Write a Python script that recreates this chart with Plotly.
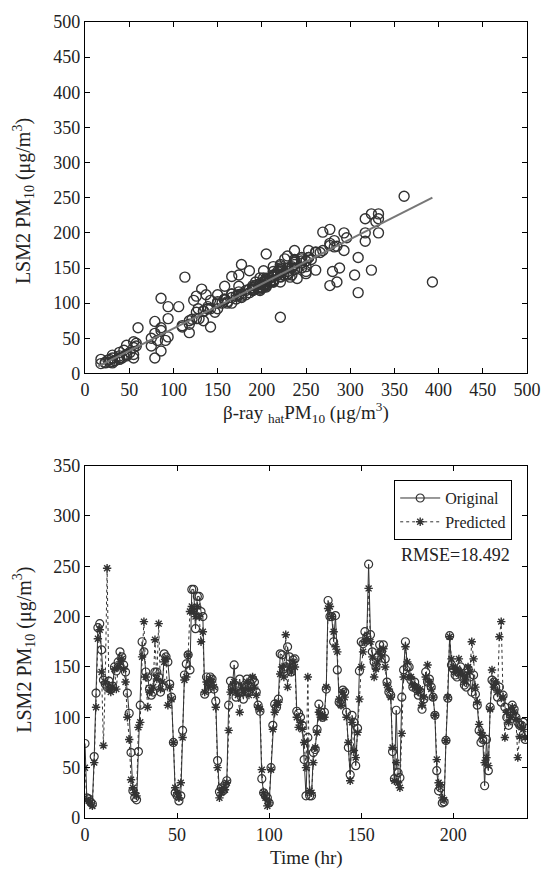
import plotly.graph_objects as go

# ---------------- data ----------------
hours = list(range(240))

original = [
    74, 20, 19, 16, 14, 61, 124, 189, 193, 167,
    137, 133, 130, 136, 128, 131, 150, 146, 155, 165,
    160, 152, 145, 124, 104, 65, 27, 20, 18, 66,
    112, 175, 165, 145, 140, 128, 122, 125, 145, 145,
    140, 125, 130, 163, 160, 155, 133, 120, 75, 25,
    22, 17, 22, 87, 142, 153, 162, 147, 227, 227,
    188, 220, 220, 205, 200, 123, 140, 128, 140, 138,
    128, 116, 57, 26, 30, 27, 33, 37, 112, 136,
    130, 152, 120, 130, 138, 125, 118, 130, 138, 125,
    130, 138, 135, 125, 112, 106, 39, 25, 22, 20,
    15, 50, 92, 113, 110, 118, 163, 162, 148, 150,
    170, 160, 145, 157, 158, 106, 104, 100, 92, 58,
    22, 80, 22, 22, 65, 68, 88, 113, 105, 100,
    105, 128, 216, 200, 200, 175, 201, 147, 115, 113,
    127, 125, 105, 70, 43, 102, 95, 52, 89, 146,
    175, 173, 185, 180, 252, 182, 165, 155, 150, 160,
    172, 165, 172, 158, 135, 125, 122, 66, 39, 107,
    45, 40, 120, 147, 175, 150, 150, 137, 130, 135,
    128, 122, 125, 108, 118, 145, 135, 138, 130, 120,
    102, 47, 27, 30, 15, 16, 77, 119, 181, 152,
    148, 142, 140, 145, 150, 140, 132, 130, 148, 140,
    125, 142, 123, 112, 87, 75, 78, 32, 78, 47,
    110, 137, 135, 130, 120, 130, 115, 122, 110, 100,
    92, 105, 112, 108, 100, 95, 92, 92, 95, 78,
]

predicted = [
    50, 18, 17, 15, 12, 55, 110, 178, 187, 145,
    72, 135, 248, 128, 125, 130, 148, 128, 150, 155,
    158, 148, 135, 100, 78, 38, 30, 25, 22, 90,
    95, 160, 195, 140, 110, 125, 127, 130, 177, 138,
    193, 128, 135, 155, 158, 112, 130, 118, 75, 30,
    25, 20, 35, 80, 137, 140, 162, 205, 210, 205,
    200, 210, 200, 175, 185, 125, 135, 130, 138, 135,
    130, 110, 50, 20, 25, 30, 28, 35, 87, 125,
    128, 135, 125, 122, 105, 130, 125, 128, 135, 122,
    128, 140, 130, 122, 110, 108, 48, 25, 20, 12,
    15, 48, 88, 105, 112, 115, 143, 150, 140, 182,
    130, 150, 145, 155, 150, 100, 90, 95, 88, 75,
    50, 140, 27, 25, 55, 70, 85, 105, 100, 102,
    100, 130, 208, 210, 200, 185, 170, 165, 118, 112,
    125, 120, 100, 75, 37, 95, 67, 60, 85, 118,
    150, 165, 175, 178, 228, 175, 160, 140, 148, 155,
    165, 160, 168, 150, 132, 128, 120, 70, 37, 55,
    35, 30, 84, 140, 170, 155, 140, 140, 132, 130,
    130, 125, 128, 112, 120, 140, 152, 135, 128, 120,
    102, 58, 35, 33, 20, 18, 77, 120, 180, 158,
    150, 145, 148, 158, 145, 142, 135, 140, 150, 145,
    175, 158, 130, 115, 93, 85, 82, 55, 60, 52,
    108, 147, 130, 135, 125, 180, 195, 120, 80, 105,
    95, 100, 110, 105, 98, 60, 81, 90, 88, 80,
]

beta_ray = [
    79, 28, 26, 23, 18, 86, 174, 282, 296, 229,
    113, 213, 393, 202, 198, 205, 234, 202, 237, 245,
    250, 234, 213, 158, 123, 60, 47, 39, 34, 142,
    150, 253, 309, 221, 174, 198, 201, 205, 280, 218,
    305, 202, 213, 245, 250, 177, 205, 186, 118, 47,
    39, 31, 55, 126, 217, 221, 256, 324, 332, 324,
    317, 332, 317, 277, 293, 198, 213, 205, 218, 213,
    205, 174, 79, 31, 39, 47, 44, 55, 137, 198,
    202, 213, 198, 193, 166, 205, 198, 202, 213, 193,
    202, 221, 205, 193, 174, 171, 75, 39, 31, 18,
    23, 75, 139, 166, 177, 182, 226, 237, 221, 288,
    205, 237, 229, 245, 237, 158, 142, 150, 139, 118,
    79, 221, 42, 39, 86, 110, 134, 166, 158, 161,
    158, 205, 329, 332, 317, 293, 269, 261, 186, 177,
    198, 190, 158, 118, 58, 150, 106, 94, 134, 186,
    237, 261, 277, 282, 361, 277, 253, 221, 234, 245,
    261, 253, 266, 237, 209, 202, 190, 110, 58, 86,
    55, 47, 132, 221, 269, 245, 221, 221, 209, 205,
    205, 198, 202, 177, 190, 221, 240, 213, 202, 190,
    161, 91, 55, 51, 31, 28, 121, 190, 285, 250,
    237, 229, 234, 250, 229, 225, 213, 221, 237, 229,
    277, 250, 205, 182, 147, 134, 129, 86, 94, 82,
    171, 232, 205, 213, 198, 285, 309, 190, 126, 166,
    150, 158, 174, 166, 155, 94, 128, 142, 139, 126,
]

fit_x = [15, 393]
fit_y = [10, 250]

x_ticks_top = [0, 50, 100, 150, 200, 250, 300, 350, 400, 450, 500]
y_ticks_top = [0, 50, 100, 150, 200, 250, 300, 350, 400, 450, 500]
x_ticks_bot = [0, 50, 100, 150, 200]
y_ticks_bot = [0, 50, 100, 150, 200, 250, 300, 350]

# ---------------- figure ----------------
FONT = "'Liberation Serif', 'Times New Roman', 'DejaVu Serif', serif"
DARK = "#333333"
TXT = "#222222"

fig = go.Figure()

fig.add_trace(go.Scatter(
    x=beta_ray, y=original, mode="markers", xaxis="x", yaxis="y",
    marker=dict(symbol="circle-open", size=10, color=DARK, line=dict(width=1.4, color=DARK)),
    showlegend=False,
))
fig.add_trace(go.Scatter(
    x=fit_x, y=fit_y, mode="lines", xaxis="x", yaxis="y",
    line=dict(color="#777777", width=2), showlegend=False,
))

fig.add_trace(go.Scatter(
    x=hours, y=original, mode="lines+markers", name="Original",
    xaxis="x2", yaxis="y2",
    line=dict(color=DARK, width=1),
    marker=dict(symbol="circle-open", size=8, color=DARK, line=dict(width=1.2, color=DARK)),
))
fig.add_trace(go.Scatter(
    x=hours, y=predicted, mode="lines+markers", name="Predicted",
    xaxis="x2", yaxis="y2",
    line=dict(color=DARK, width=1, dash="dot"),
    marker=dict(symbol="asterisk-open", size=7, color=DARK, line=dict(width=1.4, color=DARK)),
))

axis_common = dict(
    showline=True, linecolor="black", linewidth=1.2, mirror="ticks",
    ticks="inside", ticklen=5, tickwidth=1, tickcolor="black",
    showgrid=False, zeroline=False,
    tickfont=dict(family=FONT, size=18, color=TXT),
)

fig.update_layout(
    width=553, height=870,
    margin=dict(l=85, r=20, t=14, b=52),
    paper_bgcolor="white", plot_bgcolor="white",
    font=dict(family=FONT, size=18, color=TXT),
    xaxis=dict(domain=[0, 1], anchor="y", range=[0, 500], tickvals=x_ticks_top, **axis_common),
    yaxis=dict(domain=[0.5585, 1], anchor="x", range=[0, 500], tickvals=y_ticks_top, **axis_common),
    xaxis2=dict(domain=[0, 1], anchor="y2", range=[0, 240], tickvals=x_ticks_bot, **axis_common),
    yaxis2=dict(domain=[0, 0.4428], anchor="x2", range=[0, 350], tickvals=y_ticks_bot, **axis_common),
    legend=dict(
        x=0.9665, y=0.4245, xanchor="right", yanchor="top",
        bordercolor="black", borderwidth=1, bgcolor="white",
        font=dict(family=FONT, size=16, color=TXT),
        tracegroupgap=0, itemwidth=40,
    ),
    annotations=[
        dict(text="β-ray <sub>hat</sub>PM<sub>10</sub> (μg/m<sup>3</sup>)", xref="paper", yref="paper",
             x=0.5, y=0.51, xanchor="center", yanchor="middle", showarrow=False,
             font=dict(family=FONT, size=19, color=TXT)),
        dict(text="Time (hr)", xref="paper", yref="paper",
             x=0.5, y=-0.0498, xanchor="center", yanchor="middle", showarrow=False,
             font=dict(family=FONT, size=19, color=TXT)),
        dict(text="LSM2 PM<sub>10</sub> (μg/m<sup>3</sup>)", xref="paper", yref="paper",
             x=-0.138, y=0.775, xanchor="center", yanchor="middle", showarrow=False, textangle=-90,
             font=dict(family=FONT, size=20, color=TXT)),
        dict(text="LSM2 PM<sub>10</sub> (μg/m<sup>3</sup>)", xref="paper", yref="paper",
             x=-0.138, y=0.2114, xanchor="center", yanchor="middle", showarrow=False, textangle=-90,
             font=dict(family=FONT, size=20, color=TXT)),
        dict(text="RMSE=18.492", xref="paper", yref="paper",
             x=0.839, y=0.33, xanchor="center", yanchor="middle", showarrow=False,
             font=dict(family=FONT, size=18, color=TXT)),
    ],
)

fig.write_html("out.html")
